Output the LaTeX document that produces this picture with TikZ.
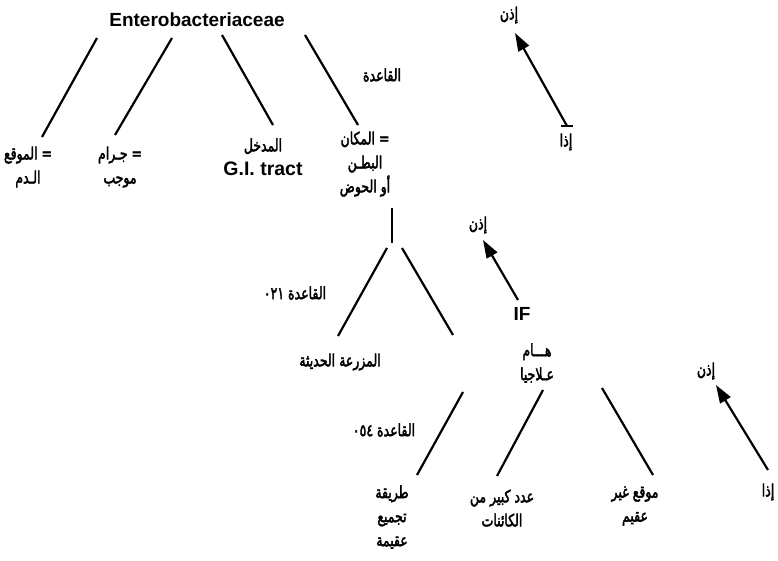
\documentclass[tikz,border=0pt]{standalone}
\usepackage{graphicx}
\usepackage{fontspec}
\setmainfont{Liberation Sans}
\newfontfamily\arabicfont[Script=Arabic,UprightFeatures={FakeBold=3}]{DejaVu Sans}
\TeXXeTstate=1
\usetikzlibrary{arrows.meta}
\newcommand{\artxt}[1]{\scalebox{1}[1.35]{\arabicfont\beginR #1\endR}}
\begin{document}
\begin{tikzpicture}[x=1pt,y=-1pt,line width=2.2pt,
  lbl/.style={font=\arabicfont\fontsize{12.5}{24}\selectfont,align=center,inner sep=0pt},
  lat/.style={font=\bfseries\fontsize{19}{24}\selectfont,align=center,inner sep=0pt},
  arr/.style={-{Triangle[length=18pt,width=12pt]}}]
\useasboundingbox (0,0) rectangle (778,561);
% nodes
\node[lat] (ent) at (197,20) {Enterobacteriaceae};
\node[lbl] (n1) at (28,167) {\artxt{= الموقع}\\\artxt{الـدم}};
\node[lbl] (n2) at (120,167) {\artxt{= جـرام}\\\artxt{موجب}};
\node[lbl] (n3) at (263,157) {\artxt{المدخل}\\{\rmfamily\bfseries\fontsize{19.5}{24}\selectfont G.I. tract}};
\node[lbl] (n4) at (365,164) {\artxt{= المكان}\\\artxt{البطـن}\\\artxt{أو الحوض}};
\node[lbl] (r1) at (382,75) {\artxt{القاعدة}};
\node[lbl] (then1) at (509,15) {\artxt{إذن}};
\node[lbl] (if1) at (566,142) {\artxt{إذا}};
\node[lbl] (r2) at (295,293) {\artxt{القاعدة \beginL٠٢١\endL}};
\node[lbl] (n5) at (340,362) {\artxt{المزرعة الحديثة}};
\node[lat] (if2) at (522,314) {IF};
\node[lbl] (then2) at (478,225) {\artxt{إذن}};
\node[lbl] (n6) at (537,363) {\artxt{هـــام}\\\artxt{عـلاجيا}};
\node[lbl] (r3) at (384,430) {\artxt{القاعدة \beginL٠٥٤\endL}};
\node[lbl] (n7) at (392,517) {\artxt{طريقة}\\\artxt{تجميع}\\\artxt{عقيمة}};
\node[lbl] (n8) at (502,508) {\artxt{عدد كبير من}\\\artxt{الكائنات}};
\node[lbl] (n9) at (635,506) {\artxt{موقع غير}\\\artxt{عقيم}};
\node[lbl] (then3) at (706,371) {\artxt{إذن}};
\node[lbl] (if3) at (768,492) {\artxt{إذا}};
% line end coordinates
\coordinate (e1) at (97,38);  \coordinate (t1) at (42,137);
\coordinate (e2) at (172,38); \coordinate (t2) at (115,135);
\coordinate (e3) at (222,35); \coordinate (t3) at (273,125);
\coordinate (e4) at (305,35); \coordinate (t4) at (358,125);
\coordinate (v1) at (392,208); \coordinate (v2) at (392,243);
\coordinate (b1) at (387,248); \coordinate (b1e) at (338,336);
\coordinate (b2) at (402,248); \coordinate (b2e) at (453,335);
\coordinate (h1) at (463,392); \coordinate (h1e) at (417,475);
\coordinate (h2) at (543,390); \coordinate (h2e) at (497,476);
\coordinate (h3) at (602,388); \coordinate (h3e) at (653,475);
\coordinate (a1t) at (567,126); \coordinate (a1h) at (515,33);
\coordinate (a2t) at (518,300); \coordinate (a2h) at (483,240);
\coordinate (a3t) at (768,470); \coordinate (a3h) at (716,385);
% connectors
\draw (e1) -- (t1);
\draw (e2) -- (t2);
\draw (e3) -- (t3);
\draw (e4) -- (t4);
\draw (v1) -- (v2);
\draw (b1) -- (b1e);
\draw (b2) -- (b2e);
\draw (h1) -- (h1e);
\draw (h2) -- (h2e);
\draw (h3) -- (h3e);
\draw[arr] (a1t) -- (a1h);
\draw[arr] (a2t) -- (a2h);
\draw[arr] (a3t) -- (a3h);
\draw[line width=1.2pt] ([xshift=-6pt]a1t) -- ([xshift=6pt]a1t);
\end{tikzpicture}
\end{document}
